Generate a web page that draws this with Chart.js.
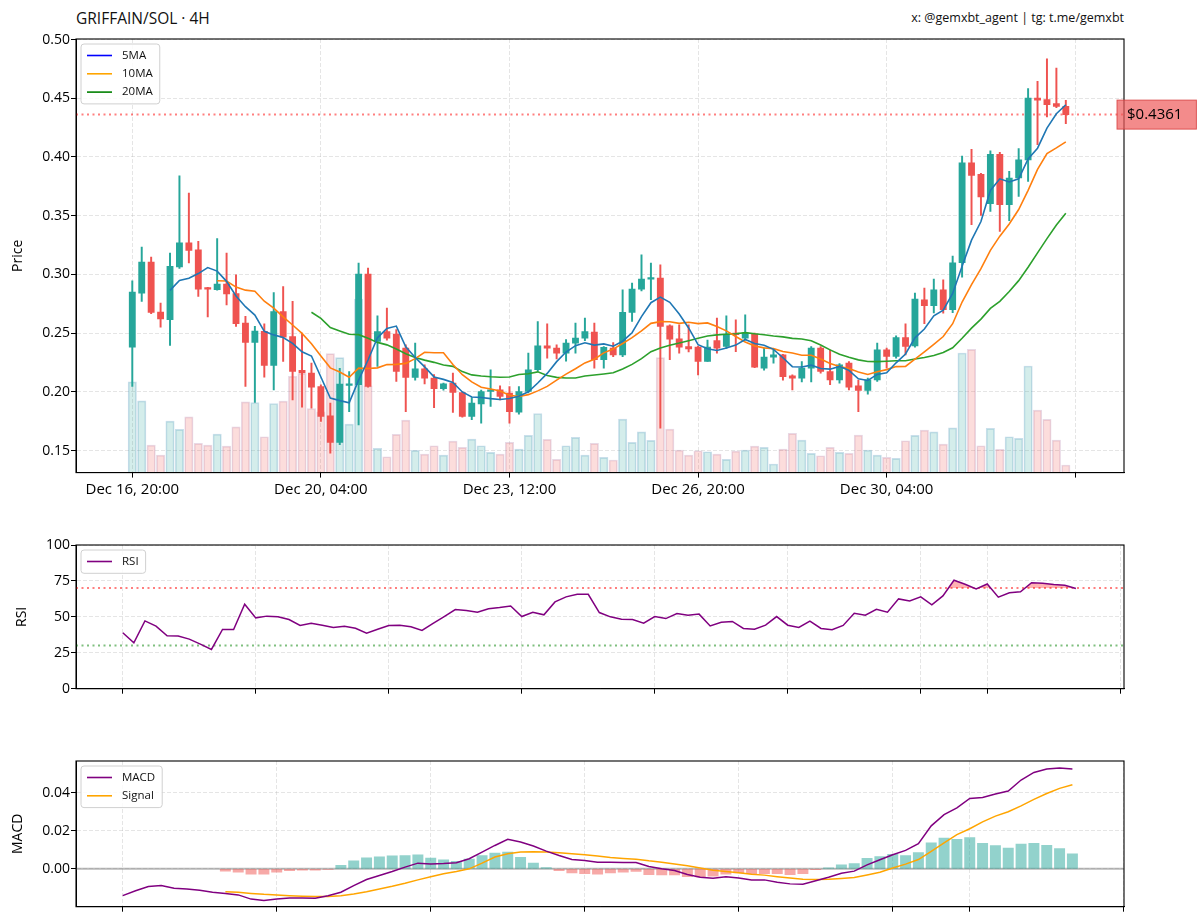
<!DOCTYPE html>
<html>
<head>
<meta charset="utf-8">
<script src="https://cdn.jsdelivr.net/npm/chart.js@4.4.1/dist/chart.umd.min.js"></script>
<style>
  html, body { margin: 0; padding: 0; background: #fff; }
  #wrap { position: relative; width: 1200px; height: 923px; font-family: 'Open Sans', sans-serif; color: #111; }
  .panel { position: absolute; left: 0; width: 1200px; }
  #title { position: absolute; left: 76px; top: 7px; font-size: 15.5px; line-height: 22px; }
  #credit { position: absolute; right: 76px; top: 8px; font-size: 12.5px; line-height: 20px; }
</style>
</head>
<body>
<div id="wrap">
  <div id="title">GRIFFAIN/SOL · 4H</div>
  <div id="credit">x: @gemxbt_agent | tg: t.me/gemxbt</div>
  <div class="panel" style="top:0;height:510px"><canvas id="priceChart"></canvas></div>
  <div class="panel" style="top:510px;height:215px"><canvas id="rsiChart"></canvas></div>
  <div class="panel" style="top:725px;height:198px"><canvas id="macdChart"></canvas></div>
</div>
<script>
// ---- price panel (4H candles, index 0 = Dec 16 20:00) ----
const priceTicks = [0, 20, 40, 60, 80, 100];
const priceTickLabels = ['Dec 16, 20:00', 'Dec 20, 04:00', 'Dec 23, 12:00', 'Dec 26, 20:00', 'Dec 30, 04:00', ''];

const opens = [
  0.2380, 0.2840, 0.3105, 0.2680, 0.2614, 0.3063, 0.3270, 0.3210, 0.2885, 0.2870,
  0.2918, 0.2836, 0.2585, 0.2420, 0.2515, 0.2224, 0.2684, 0.2470, 0.2182, 0.2160,
  0.2045, 0.1796, 0.1570, 0.2055, 0.2060, 0.3003, 0.2430, 0.2514, 0.2492, 0.2372,
  0.2122, 0.2196, 0.2116, 0.2026, 0.2074, 0.1994, 0.1790, 0.1898, 0.2003, 0.2017,
  0.1990, 0.1826, 0.2003, 0.2188, 0.2392, 0.2372, 0.2330, 0.2415, 0.2458, 0.2508,
  0.2273, 0.2372, 0.2315, 0.2676, 0.2875, 0.2960, 0.2969, 0.2563, 0.2452, 0.2386,
  0.2381, 0.2258, 0.2437, 0.2386, 0.2500, 0.2458, 0.2492, 0.2202, 0.2296, 0.2315,
  0.2137, 0.2117, 0.2202, 0.2372, 0.2173, 0.2102, 0.2245, 0.2051, 0.2011, 0.2102,
  0.2358, 0.2301, 0.2463, 0.2392, 0.2784, 0.2733, 0.2869, 0.2699, 0.3099, 0.3951,
  0.3852, 0.3602, 0.4022, 0.3593, 0.3821, 0.3975, 0.4502, 0.4488, 0.4454, 0.4431
];
const highs = [
  0.2946, 0.3233, 0.3148, 0.2756, 0.3182, 0.3840, 0.3693, 0.3281, 0.2890, 0.3306,
  0.3182, 0.2997, 0.2642, 0.2557, 0.2580, 0.2846, 0.2897, 0.2770, 0.2500, 0.2245,
  0.2060, 0.1904, 0.2200, 0.2173, 0.3097, 0.3054, 0.2648, 0.2713, 0.2530, 0.2400,
  0.2415, 0.2230, 0.2147, 0.2075, 0.2160, 0.2000, 0.1950, 0.2015, 0.2188, 0.2050,
  0.2045, 0.2045, 0.2330, 0.2599, 0.2580, 0.2400, 0.2445, 0.2585, 0.2628, 0.2585,
  0.2385, 0.2420, 0.2869, 0.2926, 0.3167, 0.3097, 0.3082, 0.2570, 0.2571, 0.2570,
  0.2390, 0.2440, 0.2628, 0.2648, 0.2614, 0.2656, 0.2500, 0.2372, 0.2356, 0.2320,
  0.2145, 0.2258, 0.2386, 0.2386, 0.2358, 0.2240, 0.2258, 0.2100, 0.2116, 0.2415,
  0.2372, 0.2477, 0.2580, 0.2841, 0.2884, 0.2960, 0.2954, 0.3157, 0.4008, 0.4065,
  0.3860, 0.4053, 0.4040, 0.3878, 0.4071, 0.4582, 0.4644, 0.4837, 0.4758, 0.4482
];
const lows = [
  0.2045, 0.2770, 0.2665, 0.2551, 0.2395, 0.3050, 0.3097, 0.2812, 0.2637, 0.2865,
  0.2741, 0.2557, 0.2045, 0.1909, 0.2125, 0.2017, 0.2258, 0.1932, 0.1870, 0.1861,
  0.1747, 0.1478, 0.1549, 0.1832, 0.1719, 0.2040, 0.2216, 0.2440, 0.2088, 0.1832,
  0.2100, 0.2068, 0.1866, 0.2015, 0.1824, 0.1785, 0.1762, 0.1733, 0.1875, 0.1930,
  0.1733, 0.1810, 0.1990, 0.2175, 0.2287, 0.2280, 0.2262, 0.2330, 0.2435, 0.2202,
  0.2202, 0.2300, 0.2300, 0.2599, 0.2860, 0.2784, 0.1691, 0.2273, 0.2330, 0.2340,
  0.2145, 0.2258, 0.2330, 0.2370, 0.2343, 0.2440, 0.2205, 0.2185, 0.2245, 0.2100,
  0.2017, 0.2085, 0.2085, 0.2159, 0.2060, 0.2074, 0.2017, 0.1832, 0.1980, 0.2088,
  0.2202, 0.2287, 0.2315, 0.2380, 0.2580, 0.2671, 0.2670, 0.2675, 0.2977, 0.3423,
  0.3502, 0.3536, 0.3366, 0.3457, 0.3664, 0.3792, 0.4105, 0.4341, 0.4420, 0.4283
];
const closes = [
  0.2850, 0.3105, 0.2676, 0.2620, 0.3068, 0.3270, 0.3204, 0.2875, 0.2875, 0.2918,
  0.2833, 0.2580, 0.2420, 0.2517, 0.2224, 0.2684, 0.2466, 0.2173, 0.2160, 0.2040,
  0.1790, 0.1570, 0.2066, 0.2068, 0.3003, 0.2045, 0.2514, 0.2458, 0.2173, 0.2122,
  0.2196, 0.2116, 0.2026, 0.2068, 0.1994, 0.1790, 0.1904, 0.2003, 0.2017, 0.1960,
  0.1832, 0.2003, 0.2188, 0.2392, 0.2372, 0.2330, 0.2415, 0.2458, 0.2514, 0.2273,
  0.2378, 0.2315, 0.2676, 0.2875, 0.2960, 0.2969, 0.2557, 0.2449, 0.2381, 0.2366,
  0.2258, 0.2381, 0.2372, 0.2492, 0.2486, 0.2500, 0.2211, 0.2296, 0.2315, 0.2130,
  0.2117, 0.2202, 0.2372, 0.2173, 0.2102, 0.2230, 0.2040, 0.2011, 0.2102, 0.2358,
  0.2301, 0.2463, 0.2386, 0.2790, 0.2733, 0.2869, 0.2699, 0.3099, 0.3951, 0.3843,
  0.3659, 0.4022, 0.3593, 0.3821, 0.3975, 0.4502, 0.4485, 0.4445, 0.4431, 0.4361
];
const volumes = [
  909, 719, 276, 176, 516, 433, 559, 293, 276, 386,
  266, 459, 709, 703, 359, 693, 716, 966, 993, 643,
  609, 1193, 1153, 486, 1739, 869, 243, 159, 383, 526,
  223, 186, 269, 176, 316, 253, 336, 269, 203, 186,
  303, 236, 373, 593, 333, 133, 269, 353, 176, 293,
  153, 126, 536, 303, 409, 323, 1153, 436, 226, 176,
  219, 209, 186, 133, 216, 226, 266, 253, 86, 236,
  393, 326, 193, 169, 253, 203, 193, 376, 226, 176,
  153, 143, 319, 373, 426, 409, 286, 449, 1199, 1236,
  269, 443, 233, 359, 343, 1069, 626, 533, 326, 76
];
const ma5 = [
  null, null, null, null, 0.2864, 0.2948, 0.2968, 0.3007, 0.3058, 0.3028,
  0.2941, 0.2816, 0.2725, 0.2654, 0.2515, 0.2485, 0.2462, 0.2413, 0.2341, 0.2305,
  0.2126, 0.1947, 0.1925, 0.1907, 0.2099, 0.2271, 0.2460, 0.2539, 0.2560, 0.2383,
  0.2293, 0.2213, 0.2127, 0.2106, 0.2080, 0.1999, 0.1956, 0.1952, 0.1942, 0.1935,
  0.1943, 0.1963, 0.2000, 0.2075, 0.2157, 0.2257, 0.2339, 0.2393, 0.2418, 0.2398,
  0.2408, 0.2388, 0.2431, 0.2503, 0.2641, 0.2759, 0.2807, 0.2762, 0.2663, 0.2544,
  0.2402, 0.2367, 0.2352, 0.2374, 0.2398, 0.2446, 0.2412, 0.2397, 0.2362, 0.2290,
  0.2214, 0.2212, 0.2227, 0.2199, 0.2193, 0.2216, 0.2183, 0.2111, 0.2097, 0.2148,
  0.2162, 0.2247, 0.2322, 0.2460, 0.2535, 0.2648, 0.2695, 0.2838, 0.3070, 0.3292,
  0.3450, 0.3715, 0.3814, 0.3788, 0.3814, 0.3983, 0.4075, 0.4246, 0.4368, 0.4445
];
const ma10 = [
  null, null, null, null, null, null, null, null, null, 0.2946,
  0.2944, 0.2892, 0.2866, 0.2856, 0.2772, 0.2713, 0.2639, 0.2569, 0.2498, 0.2410,
  0.2305, 0.2204, 0.2169, 0.2124, 0.2202, 0.2199, 0.2204, 0.2232, 0.2234, 0.2242,
  0.2283, 0.2337, 0.2333, 0.2333, 0.2232, 0.2146, 0.2085, 0.2039, 0.2024, 0.2007,
  0.1971, 0.1960, 0.1976, 0.2008, 0.2046, 0.2100, 0.2151, 0.2197, 0.2246, 0.2278,
  0.2332, 0.2364, 0.2412, 0.2461, 0.2519, 0.2583, 0.2598, 0.2597, 0.2583, 0.2593,
  0.2581, 0.2587, 0.2557, 0.2519, 0.2471, 0.2424, 0.2390, 0.2374, 0.2368, 0.2344,
  0.2330, 0.2312, 0.2312, 0.2280, 0.2242, 0.2215, 0.2198, 0.2169, 0.2148, 0.2171,
  0.2189, 0.2215, 0.2217, 0.2278, 0.2341, 0.2405, 0.2471, 0.2580, 0.2765, 0.2913,
  0.3049, 0.3205, 0.3326, 0.3429, 0.3553, 0.3716, 0.3895, 0.4030, 0.4078, 0.4129
];
const ma20 = [
  null, null, null, null, null, null, null, null, null, null,
  null, null, null, null, null, null, null, null, null, 0.2678,
  0.2625, 0.2548, 0.2518, 0.2490, 0.2487, 0.2456, 0.2421, 0.2400, 0.2365, 0.2325,
  0.2293, 0.2270, 0.2251, 0.2228, 0.2217, 0.2172, 0.2144, 0.2135, 0.2128, 0.2124,
  0.2126, 0.2148, 0.2154, 0.2170, 0.2139, 0.2123, 0.2118, 0.2118, 0.2135, 0.2143,
  0.2152, 0.2162, 0.2194, 0.2234, 0.2283, 0.2342, 0.2374, 0.2397, 0.2415, 0.2435,
  0.2456, 0.2475, 0.2485, 0.2490, 0.2495, 0.2504, 0.2494, 0.2486, 0.2476, 0.2468,
  0.2455, 0.2450, 0.2435, 0.2399, 0.2357, 0.2320, 0.2294, 0.2272, 0.2258, 0.2257,
  0.2260, 0.2264, 0.2264, 0.2279, 0.2292, 0.2310, 0.2335, 0.2375, 0.2456, 0.2542,
  0.2619, 0.2710, 0.2771, 0.2854, 0.2947, 0.3061, 0.3183, 0.3305, 0.3421, 0.3521
];
const lastPrice = 0.4361;

// ---- RSI panel (first value at candle 13 = Dec 19 00:00) ----
const rsiStart = 13;
const rsi = [
  38.9, 31.9, 47.2, 43.5, 36.8, 36.6, 34.5, 31.0, 27.3, 41.2,
  41.2, 58.8, 49.3, 50.5, 50.0, 48.1, 44.0, 45.6, 44.2, 42.6,
  43.5, 42.1, 38.7, 41.4, 44.0, 44.2, 43.1, 40.5, 45.4, 50.2,
  55.1, 54.4, 53.2, 55.6, 56.5, 57.6, 50.2, 53.2, 51.4, 60.4,
  63.9, 65.7, 65.7, 53.0, 50.0, 48.4, 48.1, 45.6, 50.2, 48.8,
  52.3, 51.2, 51.9, 43.7, 46.3, 46.8, 41.9, 41.4, 44.2, 50.2,
  44.2, 42.6, 47.0, 41.9, 41.0, 44.0, 52.5, 51.2, 55.3, 53.2,
  62.5, 61.1, 63.9, 58.3, 64.6, 75.5, 72.7, 69.4, 72.9, 63.7,
  66.7, 67.4, 73.8, 73.4, 72.5, 72.0, 69.7
];
// date ticks Dec 19, 21, 23, 25, 27, 29, 31, Jan 1, Jan 3 (in candle units)
const rsiTicks = [13, 25, 37, 49, 61, 73, 85, 91, 103];

// ---- MACD panel (MACD from candle 25 = Dec 21 00:00, signal/hist from candle 33) ----
const macdStart = 25;
const macd = [
  -0.0141, -0.0115, -0.0093, -0.0088, -0.0102, -0.0106, -0.0113, -0.0123, -0.0129, -0.0137,
  -0.0159, -0.0166, -0.0159, -0.0153, -0.0153, -0.0155, -0.0141, -0.0123, -0.0088, -0.0056,
  -0.0035, -0.0014, 0.0009, 0.0030, 0.0026, 0.0028, 0.0032, 0.0053, 0.0088, 0.0123,
  0.0155, 0.0141, 0.0120, 0.0093, 0.0070, 0.0049, 0.0044, 0.0035, 0.0035, 0.0033,
  0.0033, 0.0012, 0.0000, -0.0009, -0.0030, -0.0044, -0.0049, -0.0041, -0.0048, -0.0058,
  -0.0058, -0.0070, -0.0079, -0.0081, -0.0063, -0.0044, -0.0023, -0.0012, 0.0021, 0.0048,
  0.0074, 0.0097, 0.0132, 0.0226, 0.0285, 0.0321, 0.0370, 0.0375, 0.0393, 0.0409,
  0.0467, 0.0507, 0.0525, 0.0530, 0.0525
];
const signalStart = 33;
const signal = [
  -0.0120, -0.0123, -0.0129, -0.0134, -0.0137, -0.0141, -0.0144, -0.0146, -0.0146, -0.0141,
  -0.0132, -0.0120, -0.0106, -0.0092, -0.0076, -0.0058, -0.0042, -0.0026, -0.0014, 0.0000,
  0.0030, 0.0062, 0.0079, 0.0088, 0.0090, 0.0088, 0.0085, 0.0079, 0.0074, 0.0067,
  0.0060, 0.0055, 0.0051, 0.0042, 0.0035, 0.0026, 0.0016, 0.0004, -0.0007, -0.0014,
  -0.0021, -0.0028, -0.0033, -0.0041, -0.0048, -0.0055, -0.0056, -0.0055, -0.0051, -0.0046,
  -0.0032, -0.0018, 0.0004, 0.0025, 0.0049, 0.0092, 0.0137, 0.0180, 0.0211, 0.0247,
  0.0277, 0.0300, 0.0331, 0.0365, 0.0396, 0.0423, 0.0442
];
const hist = [
  -0.0012, -0.0018, -0.0028, -0.0028, -0.0018, -0.0009, -0.0007, -0.0007, -0.0002, 0.0018,
  0.0042, 0.0058, 0.0063, 0.0069, 0.0070, 0.0074, 0.0056, 0.0048, 0.0039, 0.0051,
  0.0070, 0.0083, 0.0088, 0.0060, 0.0030, 0.0007, -0.0009, -0.0021, -0.0025, -0.0028,
  -0.0021, -0.0018, -0.0014, -0.0030, -0.0032, -0.0032, -0.0041, -0.0042, -0.0039, -0.0028,
  -0.0021, -0.0025, -0.0025, -0.0026, -0.0030, -0.0026, -0.0004, 0.0005, 0.0021, 0.0028,
  0.0055, 0.0065, 0.0076, 0.0070, 0.0085, 0.0137, 0.0162, 0.0155, 0.0164, 0.0134,
  0.0122, 0.0109, 0.0130, 0.0134, 0.0123, 0.0106, 0.0079
];
// date ticks Dec 21, 23, 25, 27, 29, 31, Jan 1, Jan 3 (in candle units)
const macdTicks = [25, 37, 49, 61, 73, 85, 91, 103];

// ---------------------------------------------------------------
const GREEN = '#26a69a';
const RED = '#ef5350';
const FONT = "'Open Sans', sans-serif";
Chart.defaults.font.family = FONT;
Chart.defaults.font.size = 14;
Chart.defaults.color = '#000';

const pts = (arr, start) => arr.map((v, k) => ({ x: start + k, y: v }));
const up = closes.map((c, i) => c >= opens[i]);

const gridOpts = { color: 'rgba(170,170,170,0.3)', lineWidth: 1, tickColor: '#000', tickLength: 5, offset: false };
const borderOpts = { color: '#000', width: 1, dash: [4, 2] };
const fixedTicks = values => axis => { axis.ticks = values.map(v => ({ value: v })); };

const framePlugin = {
  id: 'frame',
  afterDatasetsDraw(chart) {
    const { ctx, chartArea: a } = chart;
    ctx.save();
    ctx.strokeStyle = '#000';
    ctx.lineWidth = 1.1;
    ctx.strokeRect(a.left, a.top, a.right - a.left, a.bottom - a.top);
    ctx.restore();
  }
};

function hLines(lines) {
  return {
    id: 'hlines',
    beforeDatasetsDraw(chart) {
      const { ctx, chartArea: a, scales } = chart;
      ctx.save();
      lines.forEach(l => {
        const y = scales.y.getPixelForValue(l.value);
        ctx.strokeStyle = l.color;
        ctx.lineWidth = l.width;
        ctx.setLineDash(l.dash || []);
        ctx.beginPath();
        ctx.moveTo(a.left, y);
        ctx.lineTo(a.right, y);
        ctx.stroke();
      });
      ctx.restore();
    }
  };
}

function boxLegend(items) {
  return {
    id: 'boxLegend',
    afterDraw(chart) {
      const { ctx, chartArea: a } = chart;
      ctx.save();
      ctx.font = '11.5px ' + FONT;
      const tw = Math.max(...items.map(it => ctx.measureText(it.text).width));
      const x = a.left + 5, y = a.top + 5;
      const w = 41 + tw + 7, h = items.length * 18.3 + 5;
      ctx.beginPath();
      ctx.roundRect(x, y, w, h, 3);
      ctx.fillStyle = 'rgba(255,255,255,0.85)';
      ctx.fill();
      ctx.strokeStyle = '#d0d0d0';
      ctx.lineWidth = 1;
      ctx.stroke();
      items.forEach((it, k) => {
        const cy = y + 11.5 + k * 18.3;
        ctx.strokeStyle = it.color;
        ctx.lineWidth = 1.6;
        ctx.beginPath();
        ctx.moveTo(x + 6, cy);
        ctx.lineTo(x + 31, cy);
        ctx.stroke();
        ctx.fillStyle = '#111';
        ctx.textBaseline = 'middle';
        ctx.fillText(it.text, x + 41, cy);
      });
      ctx.restore();
    }
  };
}

const priceTag = {
  id: 'priceTag',
  afterDraw(chart) {
    const { ctx, chartArea: a, scales } = chart;
    const y = scales.y.getPixelForValue(lastPrice);
    const label = '$' + lastPrice.toFixed(4);
    ctx.save();
    ctx.font = '15px ' + FONT;
    const w = ctx.measureText(label).width + 24, h = 29;
    const x = a.right - 7;
    ctx.fillStyle = 'rgba(238,90,90,0.7)';
    ctx.fillRect(x, y - h / 2, w, h);
    ctx.strokeStyle = 'rgba(215,60,60,0.8)';
    ctx.lineWidth = 1;
    ctx.strokeRect(x, y - h / 2, w, h);
    ctx.fillStyle = '#000';
    ctx.textBaseline = 'middle';
    ctx.fillText(label, x + 10, y + 0.5);
    ctx.restore();
  }
};

function yTitle(text, pad) {
  return { display: true, text, font: { size: 14 }, padding: { top: pad, bottom: 0 } };
}

// ---------------- price chart ----------------
new Chart(document.getElementById('priceChart'), {
  type: 'bar',
  data: {
    datasets: [
      {
        type: 'line', label: '5MA', data: pts(ma5, 0), borderColor: '#1f77b4',
        borderWidth: 1.6, pointRadius: 0, order: 1
      },
      {
        type: 'line', label: '10MA', data: pts(ma10, 0), borderColor: '#ff7f0e',
        borderWidth: 1.6, pointRadius: 0, order: 2
      },
      {
        type: 'line', label: '20MA', data: pts(ma20, 0), borderColor: '#2ca02c',
        borderWidth: 1.6, pointRadius: 0, order: 3
      },
      {
        label: 'body', data: closes.map((c, i) => ({ x: i, y: [opens[i], c] })),
        backgroundColor: up.map(u => u ? GREEN : RED), barThickness: 6.2,
        minBarLength: 1.5, grouped: false, order: 4
      },
      {
        label: 'wick', data: highs.map((h, i) => ({ x: i, y: [lows[i], h] })),
        backgroundColor: up.map(u => u ? GREEN : RED), barThickness: 1.3,
        grouped: false, order: 5
      },
      {
        label: 'Volume', yAxisID: 'yv', data: pts(volumes, 0),
        backgroundColor: up.map(u => u ? 'rgba(38,166,154,0.2)' : 'rgba(239,83,80,0.2)'),
        borderColor: up.map(u => u ? 'rgba(80,150,190,0.3)' : 'rgba(180,130,170,0.3)'),
        borderWidth: 1, barThickness: 8.4, grouped: false, order: 10
      }
    ]
  },
  options: {
    responsive: true, maintainAspectRatio: false, animation: false,
    layout: { padding: { left: 0, right: 76, top: 39, bottom: 0 } },
    plugins: { legend: { display: false }, tooltip: { enabled: false } },
    scales: {
      x: {
        type: 'linear', min: -5.97, max: 105.17, offset: false,
        afterBuildTicks: fixedTicks(priceTicks),
        afterFit: s => { s.height = 37.4; },
        ticks: {
          maxRotation: 0, autoSkip: false, padding: 3, font: { size: 15 },
          callback: v => priceTickLabels[priceTicks.indexOf(v)] ?? ''
        },
        grid: gridOpts, border: borderOpts
      },
      y: {
        min: 0.1312, max: 0.5005,
        afterBuildTicks: fixedTicks([0.15, 0.2, 0.25, 0.3, 0.35, 0.4, 0.45, 0.5]),
        afterFit: s => { s.width = 76; },
        ticks: { padding: 1, callback: v => v.toFixed(2) },
        title: yTitle('Price', 9.6),
        grid: gridOpts, border: borderOpts
      },
      yv: {
        display: false, min: 0, max: Math.max(...volumes) * 2.5
      }
    }
  },
  plugins: [
    hLines([{ value: lastPrice, color: 'rgba(255,0,0,0.5)', width: 2, dash: [2, 3.5] }]),
    framePlugin,
    boxLegend([
      { text: '5MA', color: '#0000ff' },
      { text: '10MA', color: '#ffa500' },
      { text: '20MA', color: '#008000' }
    ]),
    priceTag
  ]
});

// ---------------- RSI chart ----------------
new Chart(document.getElementById('rsiChart'), {
  type: 'line',
  data: {
    datasets: [{
      label: 'RSI', data: pts(rsi, rsiStart), borderColor: '#800080', borderWidth: 1.5,
      pointRadius: 0,
      fill: { target: { value: 70 }, above: 'rgba(255,0,0,0.3)', below: 'rgba(0,0,0,0)' }
    }]
  },
  options: {
    responsive: true, maintainAspectRatio: false, animation: false,
    layout: { padding: { left: 0, right: 76, top: 35, bottom: 0 } },
    plugins: { legend: { display: false }, tooltip: { enabled: false } },
    scales: {
      x: {
        type: 'linear', min: 8.78, max: 103.34, offset: false,
        afterBuildTicks: fixedTicks(rsiTicks),
        afterFit: s => { s.height = 36.3; },
        ticks: { autoSkip: false, callback: () => '' },
        grid: gridOpts, border: borderOpts
      },
      y: {
        min: 0, max: 100,
        afterBuildTicks: fixedTicks([0, 25, 50, 75, 100]),
        afterFit: s => { s.width = 76; },
        ticks: { padding: 1 },
        title: yTitle('RSI', 13.6),
        grid: gridOpts, border: borderOpts
      }
    }
  },
  plugins: [
    hLines([
      { value: 70, color: 'rgba(255,0,0,0.5)', width: 2, dash: [2, 3.5] },
      { value: 30, color: 'rgba(0,128,0,0.5)', width: 2, dash: [2, 3.5] }
    ]),
    framePlugin,
    boxLegend([{ text: 'RSI', color: '#800080' }])
  ]
});

// ---------------- MACD chart ----------------
new Chart(document.getElementById('macdChart'), {
  type: 'bar',
  data: {
    datasets: [
      {
        type: 'line', label: 'MACD', data: pts(macd, macdStart), borderColor: '#800080',
        borderWidth: 1.5, pointRadius: 0, order: 1
      },
      {
        type: 'line', label: 'Signal', data: pts(signal, signalStart), borderColor: '#ffa500',
        borderWidth: 1.5, pointRadius: 0, order: 2
      },
      {
        label: 'Histogram', data: pts(hist, signalStart),
        backgroundColor: hist.map(v => v >= 0 ? 'rgba(38,166,154,0.5)' : 'rgba(239,83,80,0.5)'),
        barThickness: 10.3, grouped: false, order: 5
      }
    ]
  },
  options: {
    responsive: true, maintainAspectRatio: false, animation: false,
    layout: { padding: { left: 0, right: 76, top: 36, bottom: 0 } },
    plugins: { legend: { display: false }, tooltip: { enabled: false } },
    scales: {
      x: {
        type: 'linear', min: 21.36, max: 103.02, offset: false,
        afterBuildTicks: fixedTicks(macdTicks),
        afterFit: s => { s.height = 16.3; },
        ticks: { autoSkip: false, callback: () => '' },
        grid: gridOpts, border: borderOpts
      },
      y: {
        min: -0.0199, max: 0.0567,
        afterBuildTicks: fixedTicks([0, 0.02, 0.04]),
        afterFit: s => { s.width = 76; },
        ticks: { padding: 1, callback: v => v.toFixed(2) },
        title: yTitle('MACD', 9.6),
        grid: gridOpts, border: borderOpts
      }
    }
  },
  plugins: [
    hLines([{ value: 0, color: 'rgba(128,128,128,0.55)', width: 2 }]),
    framePlugin,
    boxLegend([
      { text: 'MACD', color: '#800080' },
      { text: 'Signal', color: '#ffa500' }
    ])
  ]
});
</script>
</body>
</html>
